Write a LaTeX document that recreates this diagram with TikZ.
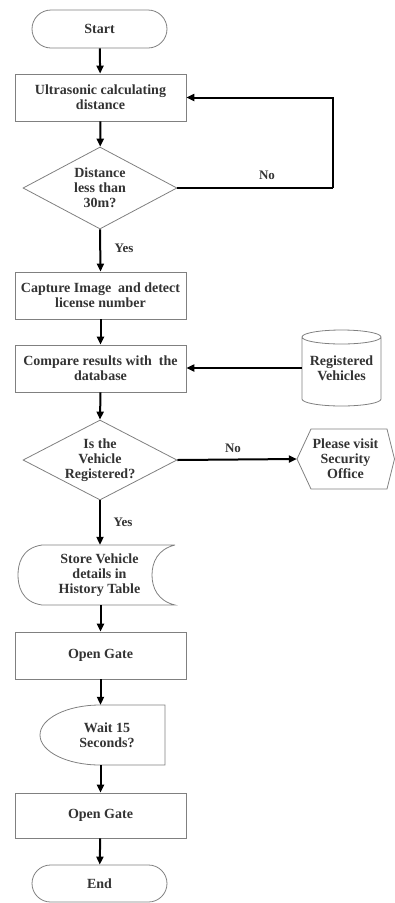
\documentclass[tikz,border=0pt]{standalone}
\usepackage{fontspec}
\setmainfont{Liberation Serif}
\usetikzlibrary{arrows.meta,shapes.geometric,shapes.misc}
\begin{document}
\begin{tikzpicture}[x=1pt,y=1pt,
  every node/.style={font=\fontsize{14}{15}\selectfont\bfseries, text=black!80, align=center, inner sep=0pt},
  outline/.style={draw=black!50, line width=0.8pt},
  proc/.style={outline, rectangle, minimum width=171pt, minimum height=47pt},
  term/.style={outline, rounded rectangle, minimum width=135pt, minimum height=38pt},
  dec/.style={outline, diamond, aspect=1.9, minimum width=154pt, minimum height=82pt},
  free/.style={minimum height=60pt},
  flow/.style={line width=2pt, -{Triangle[length=8pt,width=7pt]}},
  lbl/.style={font=\fontsize{13}{14}\selectfont\bfseries}
]
\useasboundingbox (0,0) rectangle (395,-903);

% nodes
\node[term] (start) at (99.5,-29) {Start};
\node[proc] (ultra) at (100.5,-97.5) {Ultrasonic calculating\\distance};
\node[dec] (d1) at (100,-188) {Distance\\less than\\30m?};
\node[proc] (capture) at (100.5,-295.5) {Capture Image\ \ and detect\\license number};
\node[proc] (compare) at (100.5,-368.5) {Compare results with\ \ the\\database};
\node[minimum width=79pt, minimum height=73pt] (db) at (341.5,-368) {Registered\\Vehicles};
\node[dec, minimum height=80pt] (d2) at (100,-460) {Is the\\Vehicle\\Registered?};
\node[minimum width=97pt, minimum height=60pt] (office) at (345.5,-459) {Please visit\\Security\\Office};
\node[free] (store) at (99.5,-575) {Store Vehicle\\details in\\History Table};
\node[proc] (open1) at (100.5,-655.5) {Open Gate};
\node[free] (wait) at (107,-735) {Wait 15\\Seconds?};
\node[proc, minimum height=45pt] (open2) at (100.5,-815.5) {Open Gate};
\node[term, minimum height=37pt] (end) at (99.5,-883.5) {End};

% custom outlines
% cylinder
\draw[outline] (302,-337) -- (302,-399) arc[start angle=180,end angle=360,x radius=39.5pt,y radius=7pt]
  -- (381,-337) arc[start angle=0,end angle=180,x radius=39.5pt,y radius=7pt]
  arc[start angle=180,end angle=360,x radius=39.5pt,y radius=7pt];
% hexagon
\draw[outline] (297,-459) -- (311,-429) -- (387,-429) -- (394.5,-459) -- (387,-489) -- (311,-489) -- cycle;
% stored data
\draw[outline] (175,-545) -- (42,-545) .. controls (21,-548) and (18,-565) .. (18,-575)
  .. controls (18,-585) and (21,-602) .. (42,-605) -- (175,-605)
  .. controls (158,-601) and (152,-588) .. (152,-575)
  .. controls (152,-562) and (158,-549) .. (175,-545);
% delay (reversed)
\draw[outline] (100,-705) -- (165,-705) -- (165,-765) -- (100,-765)
  arc[start angle=-90,end angle=-270,x radius=60pt,y radius=30pt];

% connectors
\coordinate (loop) at (333,-188);
\draw[flow] (start) -- (ultra);
\draw[flow] (ultra) -- (d1);
\draw[line width=2pt] (d1.east) -- (loop);
\draw[flow] (loop) |- (ultra.east);
\node[lbl] at (267,-175) {No};
\draw[flow] (d1.south) -- (capture.north);
\node[lbl] at (124,-248) {Yes};
\draw[flow] (capture) -- (compare);
\draw[flow] (db.west) -- (db.west -| compare.east);
\draw[flow] (compare.south) -- (d2.north);
\draw[flow] (d2.east) -- (office.west);
\node[lbl] at (233,-448) {No};
\draw[flow] (d2.south) -- (d2.south |- store.north);
\node[lbl] at (123,-522) {Yes};
\draw[flow] (store.south -| open1.north) -- (open1.north);
\draw[flow] (open1.south) -- (open1.south |- wait.north);
\draw[flow] (open2.north |- wait.south) -- (open2.north);
\draw[flow] (open2) -- (end);
\end{tikzpicture}
\end{document}
